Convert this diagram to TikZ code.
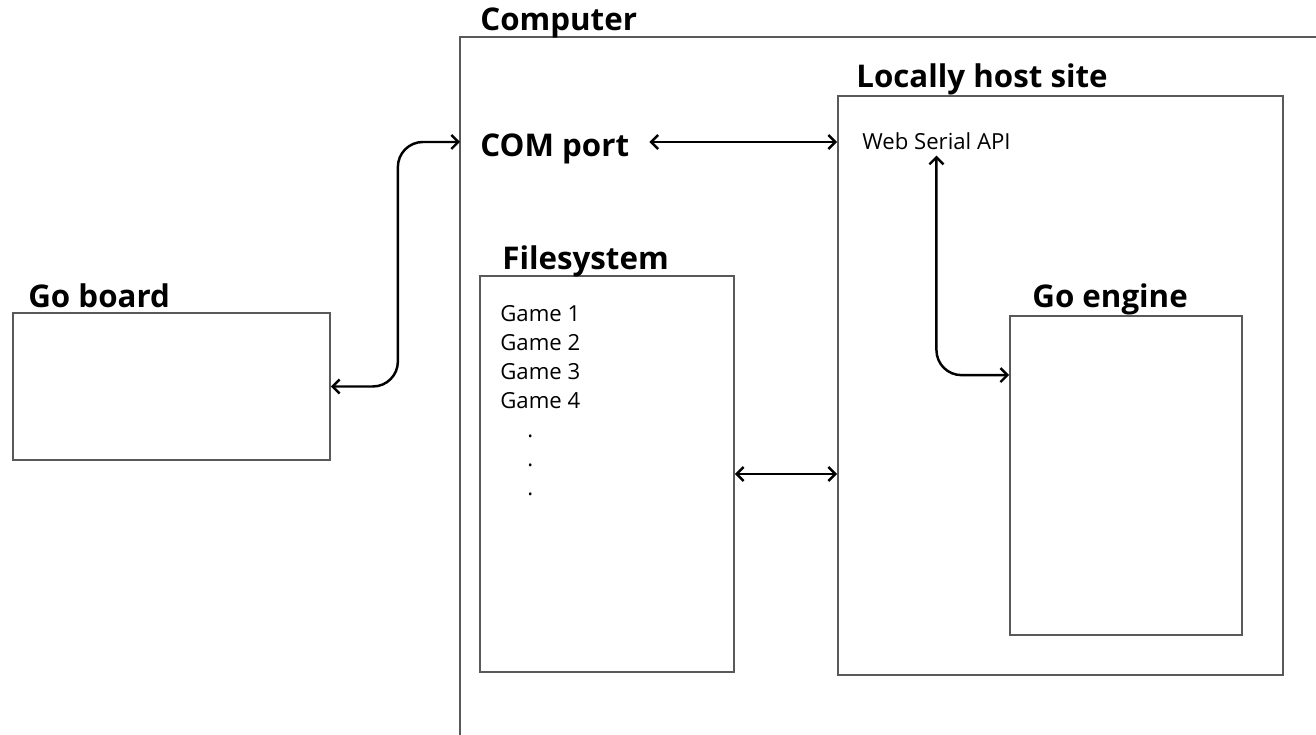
\documentclass[tikz,border=0pt]{standalone}
\usepackage{fontspec}
\setmainfont{Open Sans}
\usetikzlibrary{arrows.meta}

\begin{document}
\begin{tikzpicture}[
    box/.style={draw=black!65, line width=1pt, inner sep=0pt},
    lbl/.style={anchor=base west, inner sep=0pt, font=\fontsize{17.8}{22}\selectfont\bfseries},
    txt/.style={anchor=base west, inner sep=0pt, font=\fontsize{12.6}{14}\selectfont},
    link/.style={<->, >={Straight Barb[length=1.4mm,width=2.8mm]}, line width=1.4pt, rounded corners=0.5cm}]
    \useasboundingbox (0,0) rectangle (26.32,14.7);

    % frame of the computer, open to the right and below
    \coordinate (pc) at (9.20,13.96);
    \draw[box] (26.6,13.96) -- (pc) -- (9.20,-0.3);

    \node[box, minimum width=6.34cm, minimum height=2.94cm] (board) at (3.43,6.97) {};
    \node[box, minimum width=5.08cm, minimum height=7.92cm] (fs) at (12.14,5.22) {};
    \node[box, minimum width=8.90cm, minimum height=11.58cm] (host) at (21.21,6.99) {};
    \node[box, minimum width=4.64cm, minimum height=6.38cm] (engine) at (22.52,5.19) {};

    \node[lbl] (pclbl) at (9.60,14.08) {Computer};
    \node[lbl] (hostlbl) at (17.12,12.94) {Locally host site};
    \node[lbl] (com) at (9.60,11.56) {COM port};
    \node[lbl] (fslbl) at (10.04,9.30) {Filesystem};
    \node[lbl] (enginelbl) at (20.64,8.54) {Go engine};
    \node[lbl] (boardlbl) at (0.56,8.54) {Go board};
    \node[txt] (ws) at (17.24,11.70) {Web Serial API};

    \foreach \i/\y in {1/8.26,2/7.68,3/7.10,4/6.52}
    \node[txt] (game\i) at (10.00,\y) {Game \i};
    \foreach \i/\y in {1/5.94,2/5.36,3/4.78}
    \node[txt] (dot\i) at (10.54,\y) {.};

    \coordinate (comin) at (9.20,11.86);
    \draw[link] (board.east) -- ++(1.34,0) |- (comin);
    \draw[link] ([xshift=0.4cm]com.east |- comin) -- (host.west |- comin);
    \draw[link] (fs.east) -- (fs.east -| host.west);
    \draw[link] ([yshift=-0.1cm]ws.south) |- ([yshift=-1.2cm]engine.north west);

\end{tikzpicture}
\end{document}
